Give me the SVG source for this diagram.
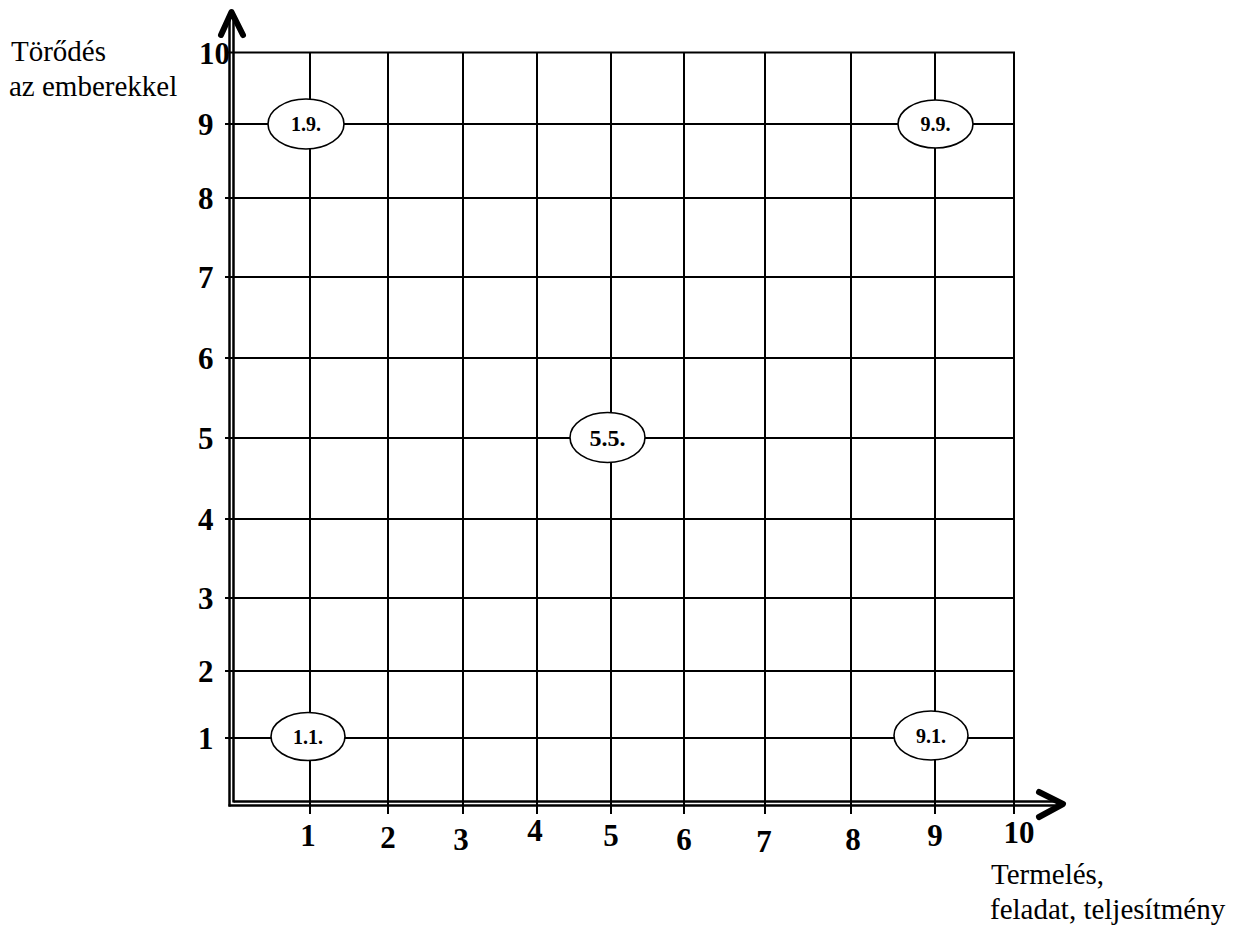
<svg xmlns="http://www.w3.org/2000/svg" width="1247" height="935" viewBox="0 0 1247 935">
<style>
.g{stroke:#000;stroke-width:2;fill:none}
.ax{stroke:#000;stroke-width:2.5;fill:none}
.ah{stroke:#000;stroke-width:6;fill:none;stroke-linecap:round;stroke-linejoin:round}
.num{font-family:"Liberation Serif","Times New Roman",serif;font-weight:bold;font-size:31px;fill:#000}
.lab{font-family:"Liberation Serif","Times New Roman",serif;font-size:29px;fill:#000}
.nd ellipse{fill:#fff;stroke:#000;stroke-width:1.6}
.nd text{font-family:"Liberation Serif","Times New Roman",serif;font-weight:bold;font-size:20px;fill:#000;text-anchor:middle}
</style>
<rect width="1247" height="935" fill="#fff"/>
<g id="connectors">
<g id="grid" class="g">
<line x1="225" y1="52.5" x2="1015" y2="52.5"/>
<line x1="225" y1="124" x2="1015" y2="124"/>
<line x1="225" y1="198" x2="1015" y2="198"/>
<line x1="225" y1="277" x2="1015" y2="277"/>
<line x1="225" y1="358" x2="1015" y2="358"/>
<line x1="225" y1="438" x2="1015" y2="438"/>
<line x1="225" y1="519" x2="1015" y2="519"/>
<line x1="225" y1="598" x2="1015" y2="598"/>
<line x1="225" y1="671" x2="1015" y2="671"/>
<line x1="225" y1="738" x2="1015" y2="738"/>
<line x1="310" y1="52" x2="310" y2="814"/>
<line x1="388" y1="52" x2="388" y2="814"/>
<line x1="463" y1="52" x2="463" y2="814"/>
<line x1="537" y1="52" x2="537" y2="814"/>
<line x1="611" y1="52" x2="611" y2="814"/>
<line x1="684" y1="52" x2="684" y2="814"/>
<line x1="765" y1="52" x2="765" y2="814"/>
<line x1="851" y1="52" x2="851" y2="814"/>
<line x1="935" y1="52" x2="935" y2="814"/>
<line x1="1014" y1="52" x2="1014" y2="814"/>
</g>
<g id="axes">
<line class="ax" x1="229.5" y1="16" x2="229.5" y2="806.5"/>
<line class="ax" x1="233.5" y1="16" x2="233.5" y2="802.5"/>
<line class="ax" x1="228.5" y1="805.5" x2="1060" y2="805.5"/>
<line class="ax" x1="233.5" y1="801.5" x2="1060" y2="801.5"/>
<polyline class="ah" points="221,35 231.5,12 243,35"/>
<polyline class="ah" points="1039,792 1063,804 1039,817"/>
</g>
</g>
<g id="y-labels" class="num">
<text x="199" y="64">10</text>
<text x="198" y="135">9</text>
<text x="198" y="209">8</text>
<text x="198" y="288">7</text>
<text x="198" y="369">6</text>
<text x="198" y="449">5</text>
<text x="198" y="530">4</text>
<text x="198" y="609">3</text>
<text x="198" y="682">2</text>
<text x="198" y="749">1</text>
</g>
<g id="x-labels" class="num" text-anchor="middle">
<text x="308" y="846">1</text>
<text x="388" y="848">2</text>
<text x="461" y="850">3</text>
<text x="535" y="841">4</text>
<text x="611" y="846">5</text>
<text x="684" y="850">6</text>
<text x="764" y="852">7</text>
<text x="853" y="850">8</text>
<text x="935" y="846">9</text>
<text x="1019" y="843">10</text>
</g>
<g id="y-axis-label" class="lab">
<text x="11" y="61">Törődés</text>
<text x="9" y="96">az emberekkel</text>
</g>
<g id="x-axis-label" class="lab">
<text x="991" y="884">Termelés,</text>
<text x="990" y="919">feladat, teljesítmény</text>
</g>
<g id="node-1-9" class="nd">
<ellipse cx="306" cy="124" rx="38" ry="25"/>
<text x="306" y="131">1.9.</text>
</g>
<g id="node-9-9" class="nd">
<ellipse cx="935.5" cy="124" rx="37.5" ry="24"/>
<text x="935.5" y="131">9.9.</text>
</g>
<g id="node-5-5" class="nd">
<ellipse cx="607.5" cy="437.5" rx="37.5" ry="25"/>
<text x="607.5" y="446" style="font-size:24px">5.5.</text>
</g>
<g id="node-1-1" class="nd">
<ellipse cx="308" cy="736.5" rx="37" ry="24"/>
<text x="308" y="744">1.1.</text>
</g>
<g id="node-9-1" class="nd">
<ellipse cx="931" cy="735.5" rx="37" ry="24.5"/>
<text x="931" y="743">9.1.</text>
</g>
</svg>
